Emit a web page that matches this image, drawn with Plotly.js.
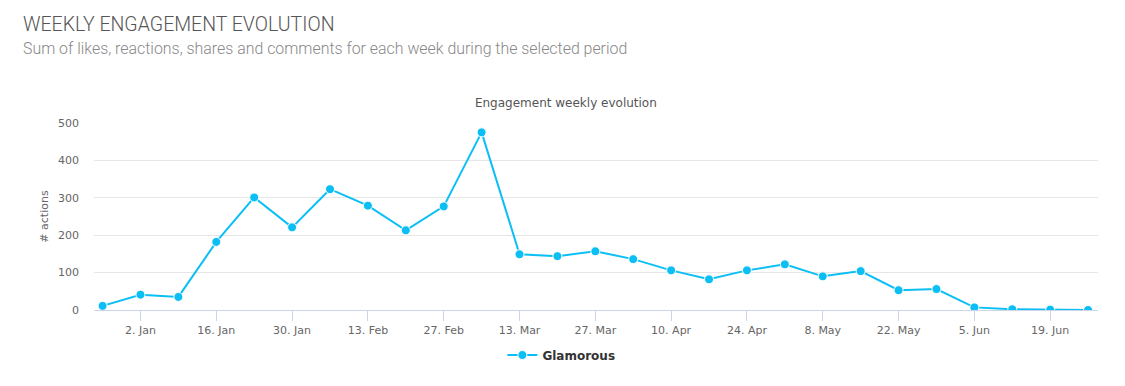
<!DOCTYPE html>
<html>
<head>
<meta charset="utf-8">
<script src="https://cdn.plot.ly/plotly-3.0.1.min.js"></script>
<style>
  html, body { margin: 0; padding: 0; background: #fff; }
  #wrap { position: relative; width: 1125px; height: 386px; overflow: hidden; }
  #h1 { position: absolute; left: 23px; top: 13px; font-family: Roboto, "Liberation Sans", sans-serif; font-weight: 300; font-size: 19.5px; color: #555; white-space: nowrap; margin: 0; }
  #h2 { position: absolute; left: 23px; top: 39px; font-family: Roboto, "Liberation Sans", sans-serif; font-weight: 300; font-size: 15.9px; color: #888; white-space: nowrap; margin: 0; }
  #chart { position: absolute; left: 0; top: 0; width: 1125px; height: 386px; }
</style>
</head>
<body>
<div id="wrap">
  <div id="chart"></div>
  <div id="h1">WEEKLY ENGAGEMENT EVOLUTION</div>
  <div id="h2">Sum of likes, reactions, shares and comments for each week during the selected period</div>
</div>
<script>
const weeks = [
  '2016-12-26','2017-01-02','2017-01-09','2017-01-16','2017-01-23','2017-01-30',
  '2017-02-06','2017-02-13','2017-02-20','2017-02-27','2017-03-06','2017-03-13',
  '2017-03-20','2017-03-27','2017-04-03','2017-04-10','2017-04-17','2017-04-24',
  '2017-05-01','2017-05-08','2017-05-15','2017-05-22','2017-05-29','2017-06-05',
  '2017-06-12','2017-06-19','2017-06-26'
];
const glamorous = [11, 41, 35, 182, 301, 221, 323, 279, 213, 277, 475, 149, 144, 157, 136, 106, 82, 106, 122, 90, 104, 53, 56, 7, 2, 1, 0];
const seriesName = 'Glamorous';
const chartTitle = 'Engagement weekly evolution';
const yTitle = '# actions';

const chartFont = '"DejaVu Sans", "Liberation Sans", sans-serif';

Plotly.newPlot('chart', [{
  x: weeks,
  y: glamorous,
  name: seriesName,
  type: 'scatter',
  mode: 'lines+markers',
  line: { color: '#0BBFF5', width: 2 },
  marker: { color: '#0BBFF5', size: 9, line: { color: '#ffffff', width: 1 } },
  showlegend: true
}], {
  width: 1125,
  height: 386,
  paper_bgcolor: '#ffffff',
  plot_bgcolor: '#ffffff',
  margin: { l: 94, r: 27, t: 123, b: 76 },
  font: { family: chartFont, color: '#666666', size: 11 },
  title: {
    text: chartTitle,
    xref: 'container', x: 0.503, xanchor: 'center',
    yref: 'container', y: 1 - 103/386, yanchor: 'middle',
    font: { family: chartFont, size: 12, color: '#555555' }
  },
  xaxis: {
    type: 'date',
    range: ['2016-12-24 10:00', '2017-06-27 20:00'],
    tick0: '2017-01-02',
    dtick: 14 * 86400000,
    tickformat: '%-d. %b',
    ticks: 'outside',
    ticklen: 10,
    tickcolor: '#ccd6eb',
    tickwidth: 1,
    showline: true,
    linecolor: '#ccd6eb',
    linewidth: 1,
    showgrid: false,
    zeroline: false,
    tickfont: { family: chartFont, size: 11, color: '#666666' },
    fixedrange: true
  },
  yaxis: {
    range: [0, 500],
    dtick: 100,
    showgrid: true,
    gridcolor: '#e6e6e6',
    gridwidth: 1,
    zeroline: false,
    showline: false,
    ticks: '',
    ticklabelstandoff: 14,
    tickfont: { family: chartFont, size: 11, color: '#666666' },
    title: { text: yTitle, font: { family: chartFont, size: 11, color: '#666666' }, standoff: 7 },
    fixedrange: true
  },
  legend: {
    orientation: 'h',
    xref: 'container', x: 0.499, xanchor: 'center',
    yref: 'container', y: 1 - 355/386, yanchor: 'middle',
    font: { family: chartFont, size: 12, color: '#333333', weight: 'bold' },
    itemwidth: 30
  },
  showlegend: true
}, { displayModeBar: false, staticPlot: true });
</script>
</body>
</html>
